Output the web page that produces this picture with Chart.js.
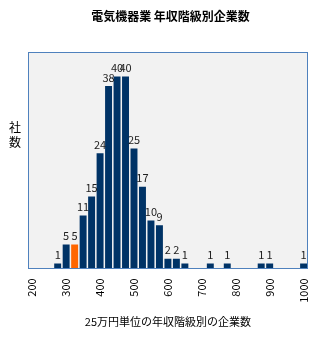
<!DOCTYPE html>
<html>
<head>
<meta charset="utf-8">
<script src="https://cdn.jsdelivr.net/npm/chart.js@4"></script>
<style>
  html, body { margin: 0; padding: 0; background: #fff; }
  #wrap { width: 327px; height: 350px; }
</style>
</head>
<body>
<div id="wrap"><canvas id="incomeChart"></canvas></div>
<script>
// 年収階級 (万円, 25万円刻み)
const incomeClasses = [200, 225, 250, 275, 300, 325, 350, 375, 400, 425, 450, 475, 500, 525, 550, 575,
  600, 625, 650, 675, 700, 725, 750, 775, 800, 825, 850, 875, 900, 925, 950, 975, 1000];
const companyCounts = [0, 0, 0, 1, 5, 5, 11, 15, 24, 38, 40, 40, 25, 17, 10, 9,
  2, 2, 1, 0, 0, 1, 0, 1, 0, 0, 0, 1, 1, 0, 0, 0, 1];
const highlightClass = 325;
const tickLabels = [200, 300, 400, 500, 600, 700, 800, 900, 1000];

const NAVY = "#003366";
const ORANGE = "#ff6600";
const FONT = "'Noto Sans CJK JP', 'Noto Sans', sans-serif";

const barColors = incomeClasses.map((c) => (c === highlightClass ? ORANGE : NAVY));

// プロット領域の背景と枠
const plotFrame = {
  id: "plotFrame",
  beforeDatasetsDraw(chart) {
    const { ctx, chartArea: a } = chart;
    ctx.save();
    ctx.fillStyle = "#f2f2f2";
    ctx.fillRect(a.left, a.top, a.right - a.left, a.bottom - a.top);
    ctx.restore();
  },
  afterDatasetsDraw(chart) {
    const { ctx, chartArea: a } = chart;
    ctx.save();
    ctx.strokeStyle = "#4f81bd";
    ctx.lineWidth = 1;
    ctx.strokeRect(Math.round(a.left) + 0.5, Math.round(a.top) + 0.5,
      Math.round(a.right - a.left) - 1, Math.round(a.bottom - a.top));
    ctx.restore();
  },
};

// 棒の上の数値ラベル
const valueLabels = {
  id: "valueLabels",
  afterDatasetsDraw(chart) {
    const { ctx } = chart;
    const meta = chart.getDatasetMeta(0);
    ctx.save();
    ctx.font = "11px " + FONT;
    ctx.fillStyle = "#222";
    ctx.textAlign = "center";
    ctx.textBaseline = "bottom";
    meta.data.forEach((bar, i) => {
      const v = companyCounts[i];
      if (!v) return;
      ctx.fillText(String(v), bar.x, bar.y - 3);
    });
    ctx.restore();
  },
};

// 縦書きの軸ラベル「社数」
const verticalTitle = {
  id: "verticalTitle",
  afterDraw(chart) {
    const { ctx } = chart;
    ctx.save();
    ctx.font = "12px " + FONT;
    ctx.fillStyle = "#000";
    ctx.textAlign = "center";
    ctx.textBaseline = "middle";
    ctx.fillText("社", 15, 127);
    ctx.fillText("数", 15, 142);
    ctx.restore();
  },
};

const ctx = document.getElementById("incomeChart").getContext("2d");
new Chart(ctx, {
  type: "bar",
  data: {
    labels: incomeClasses,
    datasets: [{
      data: companyCounts,
      backgroundColor: barColors,
      borderWidth: 0,
      barPercentage: 0.82,
      categoryPercentage: 1.0,
    }],
  },
  options: {
    responsive: true,
    maintainAspectRatio: false,
    animation: false,
    layout: { padding: { left: 28, right: 14, top: 9, bottom: 22 } },
    plugins: {
      legend: { display: false },
      tooltip: { enabled: false },
      title: {
        display: true,
        text: "電気機器業 年収階級別企業数",
        color: "#000",
        font: { family: FONT, size: 12, weight: "bold" },
        padding: { top: 0, bottom: 29 },
      },
    },
    scales: {
      x: {
        grid: { display: false, drawTicks: false },
        border: { display: false },
        ticks: {
          autoSkip: false,
          maxRotation: 90,
          minRotation: 90,
          padding: 10,
          color: "#000",
          font: { family: FONT, size: 11 },
          callback: function (value) {
            const c = incomeClasses[value];
            return tickLabels.includes(c) ? String(c) : "";
          },
        },
        title: {
          display: true,
          text: "25万円単位の年収階級別の企業数",
          color: "#000",
          font: { family: FONT, size: 11 },
          padding: { top: 2, bottom: 0 },
        },
      },
      y: {
        display: false,
        min: 0,
        max: 45,
      },
    },
  },
  plugins: [plotFrame, valueLabels, verticalTitle],
});
</script>
</body>
</html>
